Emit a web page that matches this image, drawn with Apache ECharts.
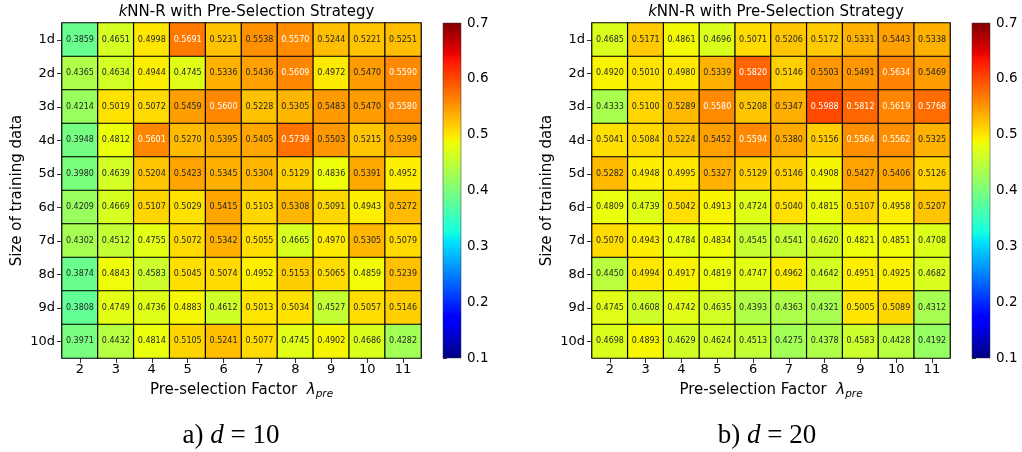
<!DOCTYPE html>
<html>
<head>
<meta charset="utf-8">
<script src="https://cdn.jsdelivr.net/npm/echarts@6/dist/echarts.min.js"></script>
<style>html,body{margin:0;padding:0;background:#fff}#c{width:1022px;height:452px}</style>
</head>
<body>
<div id="c"></div>
<script>
const factors = ['2','3','4','5','6','7','8','9','10','11'];
const sizes = ['1d','2d','3d','4d','5d','6d','7d','8d','9d','10d'];
const colorbarTicks = [0.1, 0.7];

const d10 = [
  [0.3859, 0.4651, 0.4998, 0.5691, 0.5231, 0.5538, 0.5570, 0.5244, 0.5221, 0.5251],
  [0.4365, 0.4634, 0.4944, 0.4745, 0.5336, 0.5436, 0.5609, 0.4972, 0.5470, 0.5590],
  [0.4214, 0.5019, 0.5072, 0.5459, 0.5600, 0.5228, 0.5305, 0.5483, 0.5470, 0.5580],
  [0.3948, 0.4812, 0.5601, 0.5270, 0.5395, 0.5405, 0.5739, 0.5503, 0.5215, 0.5399],
  [0.3980, 0.4639, 0.5204, 0.5423, 0.5345, 0.5304, 0.5129, 0.4836, 0.5391, 0.4952],
  [0.4209, 0.4669, 0.5107, 0.5029, 0.5415, 0.5103, 0.5308, 0.5091, 0.4943, 0.5272],
  [0.4302, 0.4512, 0.4755, 0.5072, 0.5342, 0.5055, 0.4665, 0.4970, 0.5305, 0.5079],
  [0.3874, 0.4843, 0.4583, 0.5045, 0.5074, 0.4952, 0.5153, 0.5065, 0.4859, 0.5239],
  [0.3808, 0.4749, 0.4736, 0.4883, 0.4612, 0.5013, 0.5034, 0.4527, 0.5057, 0.5146],
  [0.3971, 0.4432, 0.4814, 0.5105, 0.5241, 0.5077, 0.4745, 0.4902, 0.4686, 0.4282]
];
const d20 = [
  [0.4685, 0.5171, 0.4861, 0.4696, 0.5071, 0.5206, 0.5172, 0.5331, 0.5443, 0.5338],
  [0.4920, 0.5010, 0.4980, 0.5339, 0.5820, 0.5146, 0.5503, 0.5491, 0.5634, 0.5469],
  [0.4333, 0.5100, 0.5289, 0.5580, 0.5208, 0.5347, 0.5988, 0.5812, 0.5619, 0.5768],
  [0.5041, 0.5084, 0.5224, 0.5452, 0.5594, 0.5380, 0.5156, 0.5564, 0.5562, 0.5325],
  [0.5282, 0.4948, 0.4995, 0.5327, 0.5129, 0.5146, 0.4908, 0.5427, 0.5406, 0.5126],
  [0.4809, 0.4739, 0.5042, 0.4913, 0.4724, 0.5040, 0.4815, 0.5107, 0.4958, 0.5207],
  [0.5070, 0.4943, 0.4784, 0.4834, 0.4545, 0.4541, 0.4620, 0.4821, 0.4851, 0.4708],
  [0.4450, 0.4994, 0.4917, 0.4819, 0.4747, 0.4962, 0.4642, 0.4951, 0.4925, 0.4682],
  [0.4745, 0.4608, 0.4742, 0.4635, 0.4393, 0.4363, 0.4321, 0.5005, 0.5089, 0.4312],
  [0.4698, 0.4893, 0.4629, 0.4624, 0.4513, 0.4275, 0.4378, 0.4583, 0.4428, 0.4192]
];

// jet colormap (matplotlib segment data)
function seg(pts, x) {
  for (let i = 1; i < pts.length; i++) {
    if (x <= pts[i][0]) {
      const a = pts[i-1], b = pts[i];
      return a[1] + (b[1]-a[1]) * (x-a[0]) / (b[0]-a[0]);
    }
  }
  return pts[pts.length-1][1];
}
const R = [[0,0],[0.35,0],[0.66,1],[0.89,1],[1,0.5]];
const G = [[0,0],[0.125,0],[0.375,1],[0.64,1],[0.91,0],[1,0]];
const B = [[0,0.5],[0.11,1],[0.34,1],[0.65,0],[1,0]];
function jet(x) {
  const c = v => Math.round(Math.max(0, Math.min(1, v)) * 255);
  return 'rgb(' + c(seg(R,x)) + ',' + c(seg(G,x)) + ',' + c(seg(B,x)) + ')';
}
const N = 120;
const jetColors = [];
for (let i = 0; i <= N; i++) jetColors.push(jet(i / N));
const gradStops = jetColors.map((c, i) => ({ offset: 1 - i / N, color: c }));

const FONT = 'DejaVu Sans';
const vmin = 0.1, vmax = 0.7;

function cells(mat) {
  const out = [];
  mat.forEach((row, yi) => row.forEach((v, xi) => {
    out.push({ value: [xi, yi, v], label: { color: v > 0.555 ? '#ffffff' : '#262626' } });
  }));
  return out;
}

const panels = [
  { left: 62, width: 359, cbLeft: 443, data: d10, cap: 'a) {i|d} = 10', capX: 226 },
  { left: 592, width: 358, cbLeft: 972, data: d20, cap: 'b) {i|d} = 20', capX: 762 }
];
const TOP = 23, H = 335;

const grid = [], xAxis = [], yAxis = [], series = [], title = [];
panels.forEach((p, k) => {
  const gi = grid.length;
  grid.push({ left: p.left, top: TOP, width: p.width, height: H });
  xAxis.push({
    type: 'category', gridIndex: gi, data: factors,
    axisLine: { show: false },
    axisTick: { show: true, alignWithLabel: true, length: 5, lineStyle: { color: '#333' } },
    axisLabel: { fontFamily: FONT, fontSize: 13, color: '#000', margin: 5 },
    name: '{n|Pre-selection Factor  }{l|λ}{s|pre}',
    nameLocation: 'middle', nameGap: 23,
    nameTextStyle: {
      rich: {
        n: { fontFamily: FONT, fontSize: 15, color: '#000' },
        l: { fontFamily: FONT, fontSize: 15, fontStyle: 'italic', color: '#000' },
        s: { fontFamily: FONT, fontSize: 10.5, fontStyle: 'italic', color: '#000', padding: [8, 0, 0, 0] }
      }
    }
  });
  yAxis.push({
    type: 'category', gridIndex: gi, data: sizes, inverse: true,
    axisLine: { show: false },
    axisTick: { show: true, alignWithLabel: true, length: 5, lineStyle: { color: '#333' } },
    axisLabel: { fontFamily: FONT, fontSize: 13, color: '#000', margin: 7 },
    name: 'Size of training data', nameLocation: 'middle', nameGap: 37,
    nameTextStyle: { fontFamily: FONT, fontSize: 15, color: '#000' }
  });
  series.push({
    type: 'heatmap', xAxisIndex: gi, yAxisIndex: gi, data: cells(p.data),
    itemStyle: { borderColor: '#000', borderWidth: 1.2 },
    label: { show: true, fontFamily: FONT, fontSize: 8, formatter: q => q.value[2].toFixed(4) },
    emphasis: { disabled: true }
  });
  // colorbar grid
  const ci = grid.length;
  grid.push({ left: p.cbLeft, top: TOP, width: 18, height: H });
  xAxis.push({ type: 'value', gridIndex: ci, min: 0, max: 1, show: false });
  yAxis.push({
    type: 'value', gridIndex: ci, min: colorbarTicks[0], max: colorbarTicks[1], interval: 0.1,
    position: 'right', splitLine: { show: false },
    axisLine: { show: false },
    axisTick: { show: true, length: 4, lineStyle: { color: '#333' } },
    axisLabel: { fontFamily: FONT, fontSize: 13.5, color: '#000', margin: 6, formatter: v => v.toFixed(1) }
  });
  series.push({
    type: 'custom', xAxisIndex: ci, yAxisIndex: ci, data: [[0]],
    renderItem: (params, api) => {
      const a = api.coord([0, vmax]), b = api.coord([1, vmin]);
      return {
        type: 'rect',
        shape: { x: a[0], y: a[1], width: b[0] - a[0], height: b[1] - a[1] },
        style: {
          fill: new echarts.graphic.LinearGradient(0, 0, 0, 1, gradStops),
          stroke: '#333', lineWidth: 0.5
        }
      };
    }
  });
  title.push({
    text: '{i|k}NN-R with Pre-Selection Strategy',
    left: p.left + p.width / 2, top: 0, textAlign: 'center',
    textStyle: { fontFamily: FONT, fontSize: 15, fontWeight: 'normal', color: '#000',
      rich: { i: { fontFamily: FONT, fontSize: 15, fontStyle: 'italic', color: '#000' } } }
  });
  title.push({
    text: p.cap,
    left: p.capX, top: 417, textAlign: 'center',
    textStyle: { fontFamily: 'Liberation Serif', fontSize: 27, fontWeight: 'normal', color: '#000',
      rich: { i: { fontFamily: 'Liberation Serif', fontSize: 27, fontStyle: 'italic', color: '#000' } } }
  });
});

const chart = echarts.init(document.getElementById('c'), null, { renderer: 'canvas' });
chart.setOption({
  animation: false,
  backgroundColor: '#fff',
  title, grid, xAxis, yAxis, series,
  visualMap: {
    type: 'continuous', show: false, min: vmin, max: vmax, dimension: 2,
    seriesIndex: [0, 2], inRange: { color: jetColors }
  }
});
</script>
</body>
</html>
